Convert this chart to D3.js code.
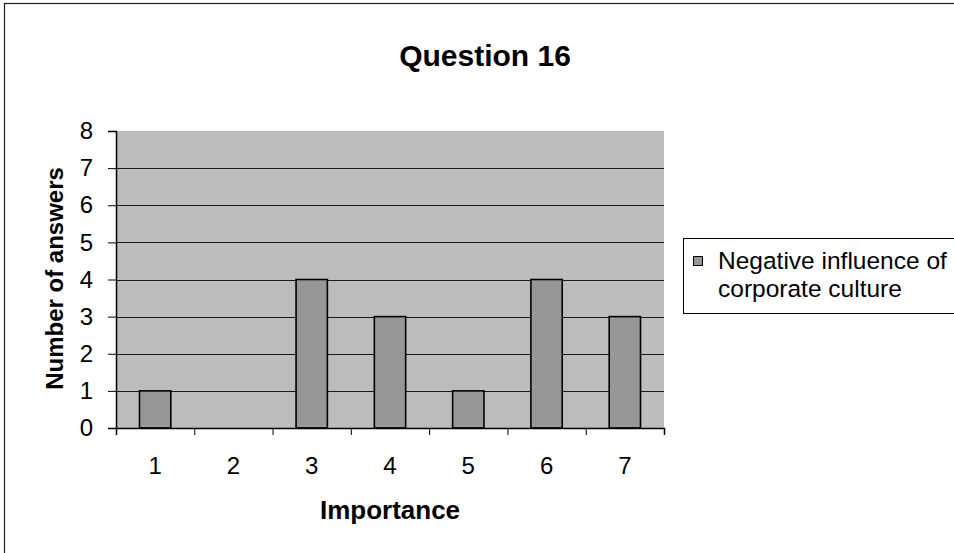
<!DOCTYPE html>
<html>
<head>
<meta charset="utf-8">
<script src="https://cdn.jsdelivr.net/npm/d3@7"></script>
<style>
  html, body { margin: 0; padding: 0; background: #fff; }
  svg { display: block; font-family: "Liberation Sans", Arial, sans-serif; }
</style>
</head>
<body>
<svg id="chart" width="954" height="553"></svg>
<script>
const title = "Question 16";
const xTitle = "Importance";
const yTitle = "Number of answers";
const seriesName = ["Negative influence of", "corporate culture"];
const categories = ["1", "2", "3", "4", "5", "6", "7"];
const values = [1, 0, 4, 3, 1, 4, 3];
const yTicks = [0, 1, 2, 3, 4, 5, 6, 7, 8];

(function () {
const svg = d3.select("#chart");
const FONT = "'Liberation Sans', Arial, sans-serif";
const pLeft = 116, pRight = 664, pTop = 131, pBottom = 428;

// outer chart border
svg.append("rect")
  .attr("x", 4.5).attr("y", 3.5)
  .attr("width", 1000).attr("height", 600)
  .attr("fill", "#fff").attr("stroke", "#222").attr("stroke-width", 1.2);

const x = d3.scaleBand().domain(categories).range([pLeft, pRight])
  .paddingInner(0.6).paddingOuter(0.3);
const xEdge = d3.scaleLinear().domain([0, categories.length]).range([pLeft, pRight]);
const y = d3.scaleLinear().domain([0, 8]).range([pBottom, pTop]);

// plot area
svg.append("rect")
  .attr("x", pLeft).attr("y", pTop)
  .attr("width", pRight - pLeft).attr("height", pBottom - pTop)
  .attr("fill", "#bcbcbc");

// gridlines
svg.append("g").selectAll("line")
  .data(yTicks.filter(d => d > 0 && d < 8))
  .join("line")
  .attr("x1", pLeft).attr("x2", pRight)
  .attr("y1", d => Math.round(y(d)) + 0.5).attr("y2", d => Math.round(y(d)) + 0.5)
  .attr("stroke", "#1a1a1a").attr("stroke-width", 1);

// bars
svg.append("g").selectAll("rect")
  .data(values.map((v, i) => ({ c: categories[i], v })).filter(d => d.v > 0))
  .join("rect")
  .attr("x", d => x(d.c))
  .attr("y", d => y(d.v))
  .attr("width", x.bandwidth())
  .attr("height", d => y(0) - y(d.v))
  .attr("fill", "#979797")
  .attr("stroke", "#000").attr("stroke-width", 1.6);

// y axis
const yAxis = svg.append("g")
  .attr("transform", `translate(${pLeft},0)`)
  .call(d3.axisLeft(y).tickValues(yTicks).tickSize(8).tickPadding(15).tickFormat(d3.format("d")));
yAxis.select(".domain").attr("stroke", "#000").attr("stroke-width", 1.5);
yAxis.selectAll(".tick line").attr("stroke", "#000");
yAxis.selectAll(".tick text")
  .attr("font-size", 24).attr("fill", "#000").attr("font-family", FONT);

// x axis: boundary ticks
const xTickAxis = svg.append("g")
  .attr("transform", `translate(0,${pBottom})`)
  .call(d3.axisBottom(xEdge).tickValues(d3.range(0, categories.length + 1)).tickSize(7).tickFormat(""));
xTickAxis.select(".domain").attr("stroke", "#000").attr("stroke-width", 1.5);
xTickAxis.selectAll(".tick line").attr("stroke", "#000");

// x axis labels
const xLab = svg.append("g")
  .attr("transform", `translate(0,${pBottom})`)
  .call(d3.axisBottom(x).tickSize(0).tickPadding(29));
xLab.select(".domain").remove();
xLab.selectAll(".tick text")
  .attr("font-size", 24).attr("fill", "#000").attr("font-family", FONT);

// title
svg.append("text")
  .attr("x", 485).attr("y", 66)
  .attr("text-anchor", "middle")
  .attr("font-size", 30).attr("font-weight", "bold")
  .text(title);

// x title
svg.append("text")
  .attr("x", (pLeft + pRight) / 2).attr("y", 519)
  .attr("text-anchor", "middle")
  .attr("font-size", 26).attr("font-weight", "bold")
  .text(xTitle);

// y title
svg.append("text")
  .attr("transform", `translate(63,${(pTop + pBottom) / 2 - 1}) rotate(-90)`)
  .attr("text-anchor", "middle")
  .attr("font-size", 24).attr("font-weight", "bold")
  .text(yTitle);

// legend
const lg = svg.append("g");
lg.append("rect")
  .attr("x", 683.5).attr("y", 238.5)
  .attr("width", 400).attr("height", 75)
  .attr("fill", "#fff").attr("stroke", "#000").attr("stroke-width", 1);
lg.append("rect")
  .attr("x", 693.5).attr("y", 256.5)
  .attr("width", 9).attr("height", 9)
  .attr("fill", "#979797").attr("stroke", "#000").attr("stroke-width", 1);
lg.append("text")
  .attr("x", 718).attr("y", 269)
  .attr("font-size", 24.5)
  .text(seriesName[0]);
lg.append("text")
  .attr("x", 718).attr("y", 297)
  .attr("font-size", 24.5)
  .text(seriesName[1]);
})();
</script>
</body>
</html>
